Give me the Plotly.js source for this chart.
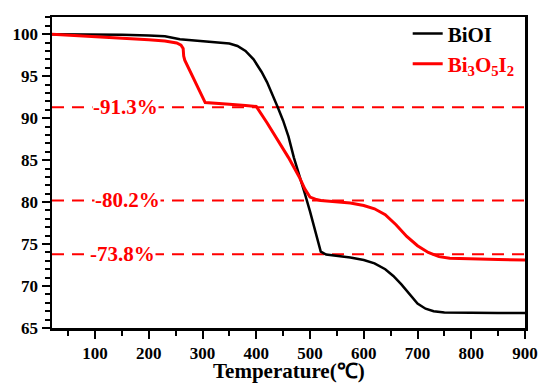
<!DOCTYPE html>
<html>
<head>
<meta charset="utf-8">
<script src="https://cdn.plot.ly/plotly-3.0.1.min.js"></script>
<style>html,body{margin:0;padding:0;background:#fff;}#chart{width:550px;height:391px;}</style>
</head>
<body>
<div id="chart"></div>
<script>
// BiOI TGA curve
const tempBiOI = [20, 100, 150, 200, 230, 258, 290, 320, 350, 365, 380, 395, 410, 420, 430, 440, 450, 460, 470, 480, 490, 500, 510, 520, 530, 550, 575, 600, 620, 640, 655, 670, 685, 700, 715, 730, 750, 800, 850, 900];
const massBiOI = [100.0, 100.0, 99.95, 99.85, 99.75, 99.4, 99.2, 99.05, 98.9, 98.6, 98.0, 97.0, 95.5, 94.3, 92.9, 91.3, 89.7, 87.8, 85.3, 83.3, 81.1, 78.9, 76.6, 74.1, 73.75, 73.6, 73.4, 73.1, 72.7, 72.0, 71.2, 70.2, 69.0, 67.9, 67.3, 67.0, 66.85, 66.8, 66.8, 66.8];
// Bi3O5I2 TGA curve
const tempBi3O5I2 = [20, 100, 150, 200, 230, 252, 260, 264, 265, 267, 305, 320, 350, 380, 400, 420, 440, 460, 480, 490, 500, 510, 520, 550, 575, 600, 620, 640, 660, 680, 700, 720, 740, 760, 800, 850, 900];
const massBi3O5I2 = [100.0, 99.75, 99.55, 99.35, 99.2, 98.95, 98.7, 98.3, 97.4, 96.9, 91.85, 91.8, 91.65, 91.5, 91.4, 89.45, 87.4, 85.3, 83.0, 81.6, 80.6, 80.35, 80.2, 80.05, 79.9, 79.6, 79.2, 78.5, 77.3, 75.9, 74.8, 74.0, 73.5, 73.3, 73.2, 73.15, 73.1];
// Residual mass reference levels
const levels = [91.3, 80.2, 73.8];
const levelLabels = ["-91.3%", "-80.2%", "-73.8%"];
const labelTemps = [157, 160, 151];
const xTicks = [100, 200, 300, 400, 500, 600, 700, 800, 900];
const yTicks = [65, 70, 75, 80, 85, 90, 95, 100];
const xTitle = 'Temperature(℃)';

const FONT = 'Liberation Serif, Times New Roman, serif';

const traces = [
  {x: tempBiOI, y: massBiOI, type: 'scatter', mode: 'lines', name: 'BiOI',
   line: {color: '#000000', width: 2.5}},
  {x: tempBi3O5I2, y: massBi3O5I2, type: 'scatter', mode: 'lines',
   name: '<span style="color:#ff0000">Bi<sub>3</sub>O<sub>5</sub>I<sub>2</sub></span>',
   line: {color: '#ff0000', width: 3}}
];

const shapes = levels.map(v => ({
  type: 'line', xref: 'paper', x0: 0, x1: 1, yref: 'y', y0: v, y1: v,
  line: {color: '#ff0000', width: 2, dash: '12px,8px'}, layer: 'below'
}));

const annotations = levels.map((v, i) => ({
  x: labelTemps[i], y: v, xref: 'x', yref: 'y', text: levelLabels[i], showarrow: false,
  font: {family: FONT, size: 21, color: '#ff0000', weight: 'bold'},
  bgcolor: '#ffffff', borderpad: 0, xanchor: 'center', yanchor: 'middle'
}));
// x-axis title, placed just under the tick labels
annotations.push({
  x: 0.5, y: -0.138, xref: 'paper', yref: 'paper', text: xTitle, showarrow: false,
  font: {family: FONT, size: 21, color: '#000000', weight: 'bold'},
  xanchor: 'center', yanchor: 'middle'
});

const axisCommon = {
  showgrid: false, zeroline: false, showline: true, mirror: true,
  linecolor: '#000000', linewidth: 2.5, ticks: 'outside', tickcolor: '#000000',
  tickwidth: 2, ticklen: 8,
  tickfont: {family: FONT, size: 17, color: '#000000', weight: 'bold'}
};

const layout = {
  width: 550, height: 391,
  margin: {l: 52, r: 25, t: 17, b: 63},
  paper_bgcolor: '#ffffff', plot_bgcolor: '#ffffff',
  showlegend: true,
  legend: {
    x: 0.752, y: 1.012, xanchor: 'left', yanchor: 'top',
    bgcolor: 'rgba(0,0,0,0)', borderwidth: 0,
    font: {family: FONT, size: 21, color: '#000000', weight: 'bold'},
    tracegroupgap: 0
  },
  xaxis: Object.assign({}, axisCommon, {
    range: [20, 900], tickmode: 'linear', tick0: xTicks[0], dtick: xTicks[1] - xTicks[0],
    minor: {tickmode: 'linear', tick0: 0, dtick: (xTicks[1] - xTicks[0]) / 2, ticks: 'outside', ticklen: 5, tickwidth: 2, tickcolor: '#000000', showgrid: false}
  }),
  yaxis: Object.assign({}, axisCommon, {
    range: [65, 102.05], tickmode: 'linear', tick0: yTicks[0], dtick: yTicks[1] - yTicks[0],
    minor: {tickmode: 'linear', tick0: 0, dtick: 1, ticks: 'outside', ticklen: 5, tickwidth: 2, tickcolor: '#000000', showgrid: false}
  }),
  shapes: shapes,
  annotations: annotations
};

Plotly.newPlot('chart', traces, layout, {displayModeBar: false, staticPlot: true});
</script>
</body>
</html>
